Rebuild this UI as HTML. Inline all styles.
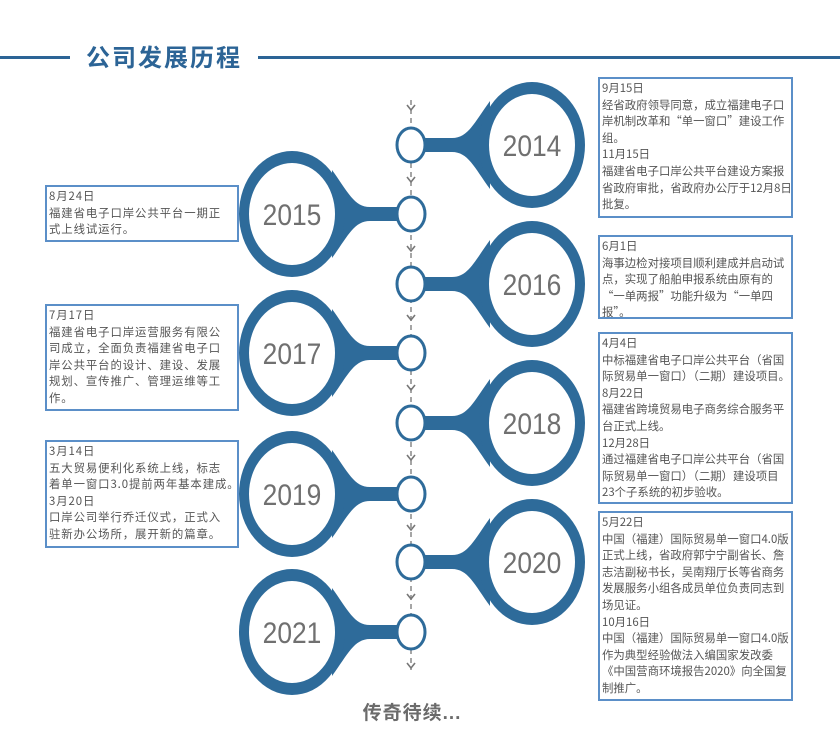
<!DOCTYPE html>
<html><head><meta charset="utf-8"><style>
body{margin:0;width:840px;height:750px;background:#fff;position:relative;overflow:hidden;font-family:"Liberation Sans","Noto Sans CJK SC",sans-serif}
.box{position:absolute;border:2px solid #5b8fc8;box-sizing:border-box;padding:1px 2px;font-size:11.4px;line-height:16.6px;color:#555;white-space:nowrap;font-family:"Noto Sans CJK SC",sans-serif;overflow:hidden}
.lb{letter-spacing:0.9px}
.title{position:absolute;left:86px;top:38px;font-size:24px;color:#2c6496;font-weight:bold;letter-spacing:2px}
.bar{position:absolute;height:3px;background:#2c6496;top:56px}
</style></head><body>
<div class="bar" style="left:0;width:70px"></div>
<div class="bar" style="left:258px;width:582px"></div>
<div class="title">公司发展历程</div>
<svg width="840" height="750" style="position:absolute;left:0;top:0">
<defs>
<g id="R">
<path d="M410,-7 L452,-7 C468,-7 474,-22 490,-44 L490,44 C474,22 468,7 452,7 L410,7 Z" fill="#2e6b9a"/>
<ellipse cx="532" cy="0" rx="53" ry="63" fill="#2e6b9a"/>
<ellipse cx="532" cy="0" rx="43" ry="51" fill="#fff"/>
<ellipse cx="411" cy="0" rx="14" ry="17" fill="#fff" stroke="#2e6b9a" stroke-width="3"/>
</g>
<g id="L">
<path d="M412,-7 L370,-7 C354,-7 348,-22 332,-44 L332,44 C348,22 354,7 370,7 L412,7 Z" fill="#2e6b9a"/>
<ellipse cx="292" cy="0" rx="53" ry="63" fill="#2e6b9a"/>
<ellipse cx="292" cy="0" rx="43" ry="51" fill="#fff"/>
<ellipse cx="411" cy="0" rx="14" ry="17" fill="#fff" stroke="#2e6b9a" stroke-width="3"/>
</g>
<path id="C" d="M-4,-3 L0,2 L4,-3" fill="none" stroke="#777" stroke-width="1.6"/>
</defs>
<line x1="411" y1="100" x2="411" y2="670" stroke="#888" stroke-width="1.5" stroke-dasharray="5,4"/>
<g fill="none">
<use href="#C" x="411" y="108"/><use href="#C" x="411" y="180"/><use href="#C" x="411" y="249"/><use href="#C" x="411" y="318"/><use href="#C" x="411" y="388"/><use href="#C" x="411" y="458"/><use href="#C" x="411" y="528"/><use href="#C" x="411" y="597"/><use href="#C" x="411" y="666"/>
</g>
<use href="#R" y="145"/><use href="#L" y="214"/><use href="#R" y="284"/><use href="#L" y="353"/><use href="#R" y="423"/><use href="#L" y="494"/><use href="#R" y="562"/><use href="#L" y="632"/>
<g font-family="Liberation Sans,sans-serif" font-size="30" fill="#707070" text-anchor="middle">
<text transform="translate(532,156) scale(0.88,1)">2014</text><text transform="translate(292,225) scale(0.88,1)">2015</text><text transform="translate(532,295) scale(0.88,1)">2016</text><text transform="translate(292,364) scale(0.88,1)">2017</text><text transform="translate(532,434) scale(0.88,1)">2018</text><text transform="translate(292,505) scale(0.88,1)">2019</text><text transform="translate(532,573) scale(0.88,1)">2020</text><text transform="translate(292,643) scale(0.88,1)">2021</text>
</g>
<text x="412" y="719" text-anchor="middle" font-size="19" font-weight="bold" fill="#6b6b6b" font-family="Liberation Sans,Noto Sans CJK SC,sans-serif" letter-spacing="1">传奇待续...</text>
</svg>
<div class="box" style="left:598px;top:77px;width:195px;height:141px">9月15日<br>经省政府领导同意，成立福建电子口<br>岸机制改革和“单一窗口”建设工作<br>组。<br>11月15日<br>福建省电子口岸公共平台建设方案报<br>省政府审批，省政府办公厅于12月8日<br>批复。</div>
<div class="box" style="left:598px;top:235px;width:195px;height:84px">6月1日<br>海事边检对接项目顺利建成并启动试<br>点，实现了船舶申报系统由原有的<br>“一单两报”功能升级为“一单四<br>报”。</div>
<div class="box" style="left:598px;top:332px;width:195px;height:172px">4月4日<br>中标福建省电子口岸公共平台（省国<br>际贸易单一窗口）（二期）建设项目。<br>8月22日<br>福建省跨境贸易电子商务综合服务平<br>台正式上线。<br>12月28日<br>通过福建省电子口岸公共平台（省国<br>际贸易单一窗口）（二期）建设项目<br>23个子系统的初步验收。</div>
<div class="box" style="left:598px;top:511px;width:195px;height:190px">5月22日<br>中国（福建）国际贸易单一窗口4.0版<br>正式上线，省政府郭宁宁副省长、詹<br>志洁副秘书长，吴南翔厅长等省商务<br>发展服务小组各成员单位负责同志到<br>场见证。<br>10月16日<br>中国（福建）国际贸易单一窗口4.0版<br>作为典型经验做法入编国家发改委<br>《中国营商环境报告2020》向全国复<br>制推广。</div>
<div class="box lb" style="left:45px;top:185px;width:194px;height:57px">8月24日<br>福建省电子口岸公共平台一期正<br>式上线试运行。</div>
<div class="box lb" style="left:45px;top:304px;width:194px;height:107px">7月17日<br>福建省电子口岸运营服务有限公<br>司成立，全面负责福建省电子口<br>岸公共平台的设计、建设、发展<br>规划、宣传推广、管理运维等工<br>作。</div>
<div class="box lb" style="left:45px;top:440px;width:194px;height:108px">3月14日<br>五大贸易便利化系统上线，标志<br>着单一窗口3.0提前两年基本建成。<br>3月20日<br>口岸公司举行乔迁仪式，正式入<br>驻新办公场所，展开新的篇章。</div>
</body></html>
